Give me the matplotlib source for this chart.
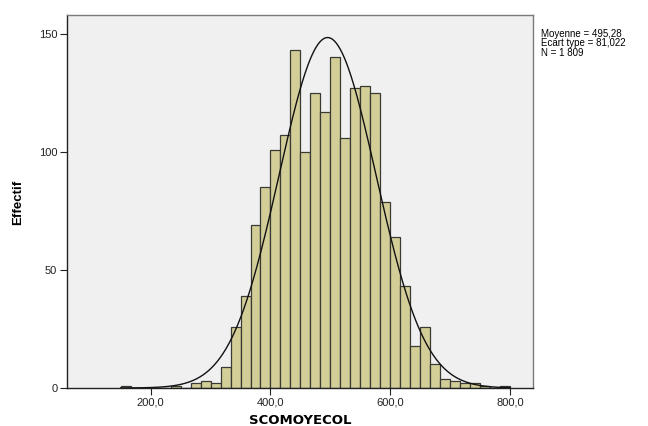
import numpy as np
import matplotlib
matplotlib.use("Agg")
import matplotlib.pyplot as plt

# histogram bins (width 50/3) starting at 150, counts
bin_start = 150.0
bin_width = 50.0 / 3.0
counts = [1, 0, 0, 0, 0, 1, 0, 2, 3, 2, 9, 26, 39, 69, 85, 101, 107, 143, 100,
          125, 117, 140, 106, 127, 128, 125, 79, 64, 43, 18, 26, 10, 4, 3, 2, 2,
          1, 0, 1]

mean = 495.28
std = 81.022
n = 1809

x_ticks = [200, 400, 600, 800]
x_labels = ["200,0", "400,0", "600,0", "800,0"]
y_ticks = [0, 50, 100, 150]
stats_lines = ["Moyenne = 495,28", "Ecart type = 81,022", "N = 1 809"]

plt.rcParams["font.family"] = ["Liberation Sans", "DejaVu Sans"]

W, H = 648, 426
fig = plt.figure(figsize=(W / 100, H / 100), dpi=100)
ax = fig.add_axes([67 / W, 38 / H, 466 / W, 373 / H])
ax.set_facecolor("#f0f0f0")

lefts = bin_start + bin_width * np.arange(len(counts))
ax.bar(lefts, counts, width=bin_width, align="edge", color="#d3ce97",
       edgecolor="#3a3a34", linewidth=0.9, zorder=2)

# normal curve scaled to counts
xs = np.linspace(150, 800, 400)
ys = n * bin_width / (std * np.sqrt(2 * np.pi)) * np.exp(-0.5 * ((xs - mean) / std) ** 2)
ax.plot(xs, ys, color="#111111", linewidth=1.0, zorder=3)

ax.set_xlim(60.5, 838)
ax.set_ylim(0, 158)
ax.set_xticks(x_ticks)
ax.set_xticklabels(x_labels)
ax.set_yticks(y_ticks)
ax.tick_params(direction="out", length=5, width=0.8, labelsize=8, pad=2,
               colors="#222222")

for side in ["top", "right"]:
    ax.spines[side].set_color("#7a7a7a")
for side in ["left", "bottom"]:
    ax.spines[side].set_color("#222222")
for s in ax.spines.values():
    s.set_linewidth(1.0)

# axis titles placed in pixel positions
fig.text(300 / W, 1 - 420 / H, "SCOMOYECOL", fontsize=9.5, fontweight="bold",
         family="DejaVu Sans", ha="center", va="center")
fig.text(18 / W, 1 - 202 / H, "Effectif", fontsize=9.5, fontweight="bold",
         rotation=90, ha="center", va="center")

for i, line in enumerate(stats_lines):
    fig.text(541 / W, 1 - (34 + 9.5 * i) / H, line, fontsize=7,
             ha="left", va="center")

fig.savefig("out.png", dpi=100)
